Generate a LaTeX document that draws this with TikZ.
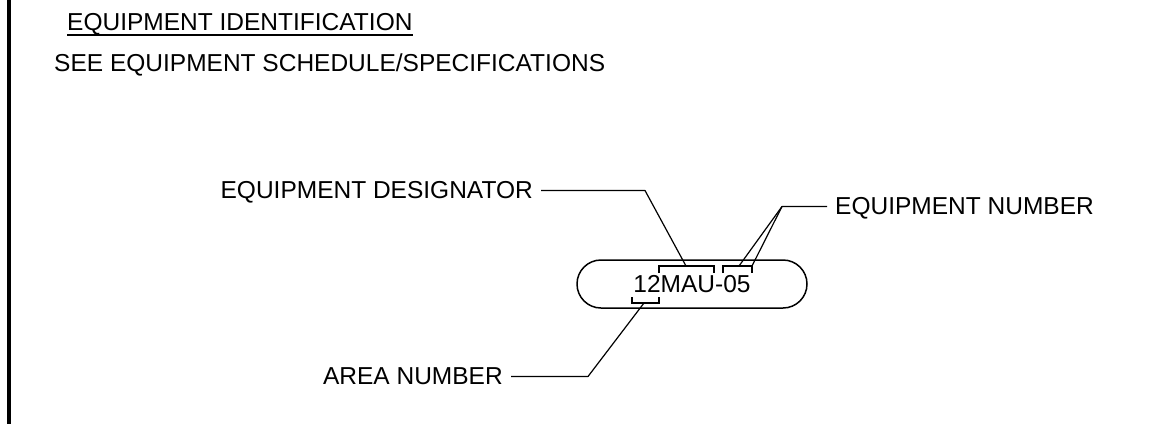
\documentclass[tikz,border=0pt]{standalone}
\usepackage{fontspec}
\setmainfont{Liberation Sans}

\begin{document}
\begin{tikzpicture}[x=1pt,y=-1pt,font=\fontsize{24.5pt}{29pt}\selectfont,
	callout/.style={inner xsep=8pt, inner ysep=0pt, text height=15pt, text depth=0pt},
	leader/.style={line width=1.2pt, line join=round},
	bracket/.style={line width=1.2pt}]
			      \useasboundingbox (0,0) rectangle (1175,424);
			      \draw[line width=4.5pt] (9,0) -- (9,424);

			      \node[callout, inner xsep=0pt, inner ysep=4.5pt, anchor=base west] (title) at (67,30) {EQUIPMENT IDENTIFICATION};
			      \draw[line width=2pt] (title.south west) -- (title.south east);
			      \node[callout, inner xsep=0pt, anchor=base west] (see) at (54,71) {SEE EQUIPMENT SCHEDULE/SPECIFICATIONS};

			      \node[draw, line width=1.5pt, rounded corners=24pt, minimum width=230pt, minimum height=48pt, inner sep=0pt] (tag) at (692,284) {12MAU-05};

			      \draw[bracket] (659,273) |- (714,266) -- (714,273);
			      \draw[bracket] (723,273) |- (752,266) -- (752,273);
			      \draw[bracket] (632,297) |- (659,303) -- (659,297);
			      \coordinate (mau) at (686,266);
			      \coordinate (num0) at (739,266);
			      \coordinate (num5) at (752,266);
			      \coordinate (twelve) at (644,303);

			      \node[callout, anchor=base east] (desig) at (541,198) {EQUIPMENT DESIGNATOR};
			      \node[callout, anchor=base west] (eqnum) at (827,214) {EQUIPMENT NUMBER};
			      \node[callout, anchor=base east] (area) at (511,384) {AREA NUMBER};
			      \coordinate (numknee) at ([xshift=-45pt]eqnum.west);

			      \draw[leader] (desig.east) -- ++(104,0) -- (mau);
			      \draw[leader] (eqnum.west) -- (numknee) -- (num0);
			      \draw[leader] (numknee) -- (num5);
			      \draw[leader] (area.east) -- ++(77,0) -- (twelve);
		      \end{tikzpicture}
\end{document}
